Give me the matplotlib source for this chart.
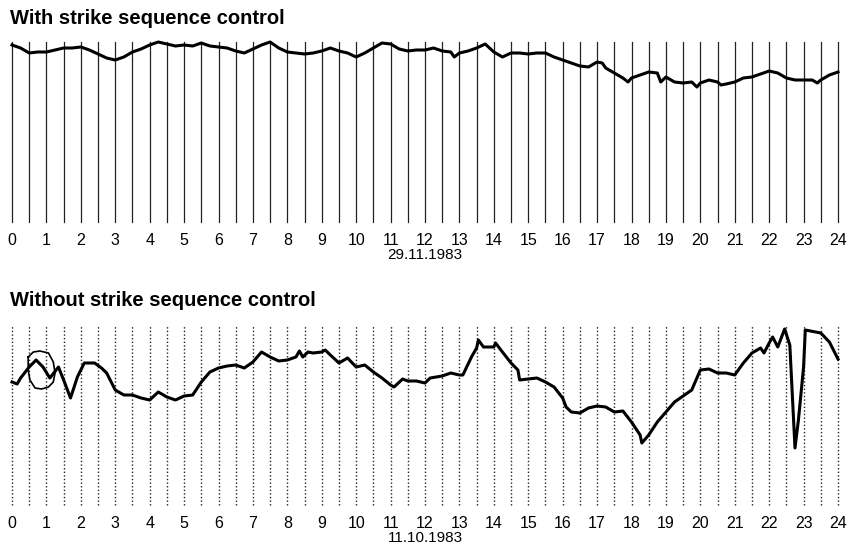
import matplotlib
matplotlib.use("Agg")
import matplotlib.pyplot as plt
import numpy as np

# ===============================
# data (level = pen height above baseline)
# ===============================
hour_labels = [str(h) for h in range(25)]
grid_hours = np.arange(0, 24.01, 0.5)

top_date = "29.11.1983"
top_hours = [0, 0.25, 0.5, 0.75, 1, 1.25, 1.5, 1.75, 2, 2.25, 2.5, 2.75, 3, 3.25, 3.5, 3.75,
             4, 4.25, 4.5, 4.75, 5, 5.25, 5.5, 5.75, 6, 6.25, 6.5, 6.75, 7, 7.25, 7.5, 7.75,
             8, 8.25, 8.5, 8.75, 9, 9.25, 9.5, 9.75, 10, 10.25, 10.5, 10.75, 11, 11.25, 11.5, 11.75,
             12, 12.25, 12.5, 12.75, 12.85, 13, 13.25, 13.5, 13.75, 14, 14.25, 14.5, 14.75,
             15, 15.25, 15.5, 15.75, 16, 16.25, 16.5, 16.75, 17, 17.15, 17.25, 17.5, 17.75, 17.9,
             18, 18.25, 18.5, 18.75, 18.85, 19, 19.25, 19.5, 19.75, 19.9, 20, 20.25, 20.5, 20.6,
             20.75, 21, 21.25, 21.5, 21.75, 22, 22.25, 22.5, 22.75, 23, 23.25, 23.4, 23.5, 23.75, 24]
top_level = [177, 174, 169, 170, 170, 172, 174, 174, 175, 172, 168, 164, 162, 165, 170, 173,
             177, 180, 178, 176, 177, 176, 179, 176, 175, 174, 171, 169, 173, 177, 180, 174,
             170, 169, 168, 169, 171, 174, 171, 169, 165, 169, 174, 179, 178, 173, 171, 172,
             172, 174, 171, 170, 165, 169, 171, 174, 178, 170, 165, 169, 169,
             168, 169, 169, 165, 162, 159, 156, 155, 160, 159, 154, 149, 144, 140,
             144, 147, 150, 149, 140, 145, 140, 139, 140, 135, 139, 142, 140, 137,
             138, 140, 144, 145, 148, 151, 149, 144, 142, 142, 142, 139, 142, 147, 150]

bot_date = "11.10.1983"
bot_hours = [0, 0.15, 0.25, 0.5, 0.7, 0.9, 1.1, 1.35, 1.5, 1.7, 1.9, 2.1, 2.4, 2.6, 2.75,
             3, 3.25, 3.5, 3.75, 4, 4.25, 4.5, 4.75, 5, 5.25, 5.5, 5.75, 6, 6.25, 6.5, 6.75,
             7, 7.25, 7.5, 7.75, 8, 8.25, 8.35, 8.45, 8.6, 8.75, 9, 9.1, 9.25, 9.5, 9.75,
             10, 10.25, 10.5, 10.75, 11, 11.1, 11.35, 11.5, 11.75, 12, 12.15, 12.5, 12.75,
             13, 13.1, 13.35, 13.5, 13.55, 13.7, 13.9, 14, 14.05, 14.25, 14.5, 14.7, 14.75,
             15, 15.25, 15.5, 15.75, 16, 16.1, 16.25, 16.5, 16.75, 17, 17.25, 17.5, 17.75,
             18, 18.25, 18.3, 18.5, 18.75, 19, 19.25, 19.5, 19.75, 20, 20.25, 20.5, 20.75,
             21, 21.25, 21.5, 21.75, 21.85, 22, 22.1, 22.25, 22.45, 22.6, 22.75, 22.85,
             23, 23.05, 23.5, 23.75, 24]
bot_level = [123, 121, 127, 138, 145, 138, 127, 138, 125, 107, 128, 142, 142, 137, 132,
             115, 110, 110, 107, 105, 113, 108, 105, 109, 110, 123, 133, 137, 139, 140, 137,
             143, 153, 148, 144, 145, 148, 154, 148, 153, 152, 153, 155, 150, 142, 147,
             138, 140, 133, 127, 120, 118, 126, 124, 124, 122, 127, 129, 132,
             130, 130, 148, 157, 165, 158, 158, 158, 162, 153, 142, 135, 125,
             126, 127, 123, 118, 107, 98, 93, 92, 97, 99, 98, 93, 94,
             83, 70, 62, 70, 83, 93, 103, 109, 115, 135, 136, 132, 132,
             130, 142, 152, 157, 152, 162, 168, 158, 176, 160, 57, 85,
             138, 175, 172, 163, 146]

# pen loop near the start of the second record
loop_hours = [0.47, 0.62, 0.81, 1.06, 1.2, 1.25, 1.2, 1.06, 0.86, 0.67, 0.52, 0.47, 0.47]
loop_level = [148, 153, 154, 152, 143, 132, 123, 118, 116, 117, 125, 135, 148]

# ===============================
# figure
# ===============================
plt.rcParams["font.family"] = ["Liberation Sans", "DejaVu Sans"]

W, H = 852, 545
fig = plt.figure(figsize=(W / 100, H / 100), dpi=100)
fig.patch.set_facecolor("white")


def make_panel(y_base, title, title_y, date, hours, level, dotted):
    ax = fig.add_axes([12 / W, (H - y_base) / H, 826 / W, 184 / H])
    ax.set_xlim(0, 24)
    ax.set_ylim(0, 184)
    for h in grid_hours:
        if dotted:
            ax.plot([h, h], [0, 180], color="#222222", lw=1.0, ls=(0, (1, 1.6)), clip_on=False)
        else:
            ax.plot([h, h], [0, 180], color="#222222", lw=0.9, clip_on=False)
    ax.plot(hours, level, color="black", lw=2.2, solid_joinstyle="round", clip_on=False)
    for s in ax.spines.values():
        s.set_visible(False)
    ax.set_yticks([])
    ax.set_xticks(range(25))
    ax.set_xticklabels(hour_labels, fontsize=11.5)
    ax.tick_params(axis="x", length=0, pad=8)
    fig.text(10 / W, 1 - title_y / H, title, fontsize=14.5, fontweight="bold",
             va="center", ha="left")
    fig.text(425 / W, 1 - (y_base + 33) / H, date, fontsize=11, va="center", ha="center")
    return ax


ax1 = make_panel(222, "With strike sequence control", 18, top_date, top_hours, top_level, False)
ax2 = make_panel(505, "Without strike sequence control", 300, bot_date, bot_hours, bot_level, True)
ax2.plot(loop_hours, loop_level, color="black", lw=1.2)

fig.savefig("out.png", dpi=100)
